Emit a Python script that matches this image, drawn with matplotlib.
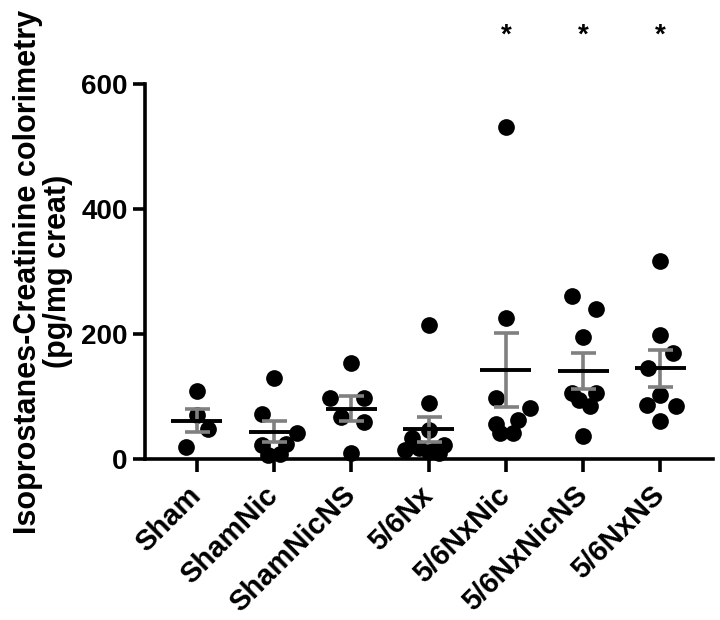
import numpy as np
import matplotlib
matplotlib.use("Agg")
import matplotlib.pyplot as plt

plt.rcParams.update({
    "font.family": ["Liberation Sans", "DejaVu Sans"],
    "font.weight": "bold",
})

# ── Datos ─────────────────────────────────────────────────────────────────
groups = ["Sham", "ShamNic", "ShamNicNS", "5/6Nx", "5/6NxNic", "5/6NxNicNS", "5/6NxNS"]

sham        = [109, 70, 48, 19]
sham_nic    = [130, 72, 42, 22, 24, 6, 8]
sham_nic_ns = [154, 97, 97, 67, 59, 10]
nx          = [214, 90, 46, 34, 22, 18, 14, 14, 11, 10]
nx_nic      = [532, 225, 98, 82, 62, 56, 41, 42]
nx_nic_ns   = [261, 240, 195, 106, 106, 94, 84, 37]
nx_ns       = [317, 198, 169, 146, 102, 86, 85, 61]

# desplazamiento horizontal de cada punto (dispersión tipo GraphPad)
jit_sham        = [0, 0, 0.15, -0.14]
jit_sham_nic    = [0, -0.15, 0.30, -0.15, 0.16, -0.08, 0.08]
jit_sham_nic_ns = [0, -0.28, 0.17, -0.14, 0.17, 0]
jit_nx          = [0, 0, 0, -0.21, 0.20, -0.12, 0.08, -0.30, 0, 0.13]
jit_nx_nic      = [0, 0, -0.13, 0.31, 0.16, -0.13, -0.08, 0.09]
jit_nx_nic_ns   = [-0.14, 0.16, 0, -0.14, 0.16, -0.06, 0.09, 0]
jit_nx_ns       = [0, 0, 0.16, -0.16, 0, -0.18, 0.20, 0]

significant = ["5/6NxNic", "5/6NxNicNS", "5/6NxNS"]

values = [sham, sham_nic, sham_nic_ns, nx, nx_nic, nx_nic_ns, nx_ns]
jitter = [jit_sham, jit_sham_nic, jit_sham_nic_ns, jit_nx, jit_nx_nic, jit_nx_nic_ns, jit_nx_ns]

GRAY = "#808080"

fig = plt.figure(figsize=(7.2, 6.2), dpi=100)
ax = fig.add_axes([0.2014, 0.2597, 0.7889, 0.6048])

for i, (vals, jit) in enumerate(zip(values, jitter)):
    v = np.asarray(vals, dtype=float)
    x = i + np.asarray(jit)
    ax.scatter(x, v, s=145, color="black", zorder=2, clip_on=False, linewidths=0)
    mean = v.mean()
    sem = v.std(ddof=1) / np.sqrt(len(v))
    ax.errorbar(i, mean, yerr=sem, fmt="none", ecolor=GRAY, elinewidth=2.6,
                capsize=9, capthick=2.6, zorder=3)
    ax.hlines(mean, i - 0.33, i + 0.33, color="black", linewidth=2.8, zorder=4)

for g in significant:
    ax.text(groups.index(g), 678, "*", ha="center", va="center",
            fontsize=20, fontweight="bold", clip_on=False)

ax.set_xlim(-0.67, 6.68)
ax.set_ylim(0, 600)
ax.set_yticks([0, 200, 400, 600])
ax.set_xticks(range(len(groups)))
ax.set_xticklabels(groups, rotation=45, ha="right", va="center",
                   rotation_mode="anchor", fontsize=21, fontweight="bold")
ax.tick_params(axis="y", labelsize=20, width=2.6, length=9)
ax.tick_params(axis="x", width=2.6, length=9, pad=14)

for s in ["top", "right"]:
    ax.spines[s].set_visible(False)
for s in ["left", "bottom"]:
    ax.spines[s].set_linewidth(2.6)

ax.set_ylabel("Isoprostanes-Creatinine colorimetry\n(pg/mg creat)",
              fontsize=22, fontweight="bold", labelpad=6, linespacing=1.0)

fig.savefig("out.png", dpi=100, facecolor="white")
